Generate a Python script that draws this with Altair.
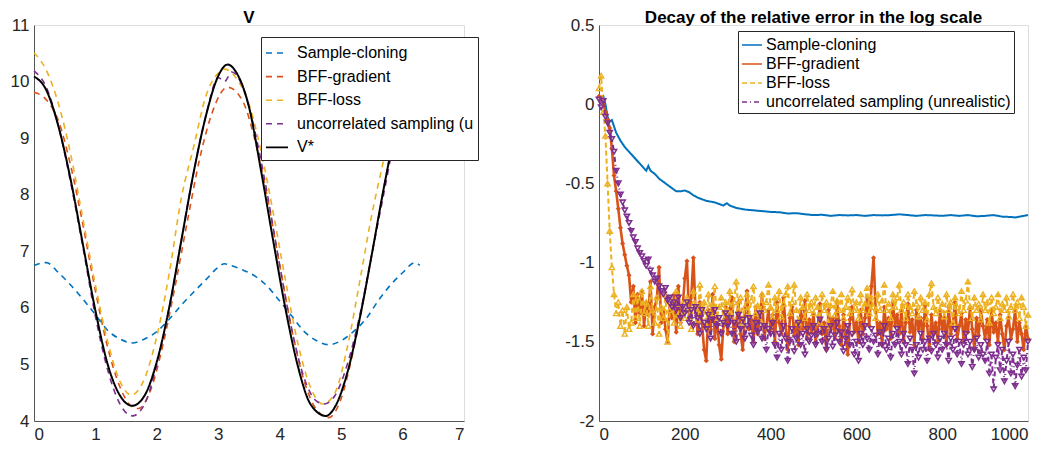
import altair as alt
import pandas as pd

FONT = "Liberation Sans"

# ---------------- Left panel: V ----------------
left_names = ["Sample-cloning", "BFF-gradient", "BFF-loss",
              "uncorrelated sampling (unrealistic)", "V*"]
left_colors = ["#0072BD", "#D95319", "#EDB120", "#7E2F8E", "#000000"]
left_dashes = [[6, 5], [6, 5], [6, 5], [6, 5], [1, 0]]

sc_x = [0, 0.2, 0.4, 0.6, 0.8, 1.0, 1.2, 1.4, 1.6, 1.8, 2.0, 2.2, 2.4, 2.6, 2.8, 3.0, 3.1, 3.2,
        3.4, 3.6, 3.8, 4.0, 4.2, 4.4, 4.6, 4.8, 5.0, 5.2, 5.4, 5.6, 5.8, 6.0, 6.2, 6.28]
sc_v = [6.75, 6.80, 6.62, 6.40, 6.15, 5.88, 5.60, 5.45, 5.38, 5.45, 5.58, 5.80, 6.05, 6.28, 6.50,
        6.72, 6.78, 6.75, 6.67, 6.56, 6.38, 6.12, 5.85, 5.58, 5.42, 5.35, 5.42, 5.58, 5.80, 6.12,
        6.40, 6.62, 6.80, 6.75]

grad_x = [0, 0.2, 0.4, 0.6, 0.8, 1.0, 1.2, 1.4, 1.6, 1.7, 1.9, 2.1, 2.3, 2.5, 2.7, 2.9, 3.15,
          3.4, 3.6, 3.8, 4.0, 4.2, 4.4, 4.6, 4.8, 5.0, 5.2, 5.4, 5.6, 5.8, 6.0, 6.28]
grad_v = [9.81, 9.68, 9.30, 8.50, 7.45, 6.30, 5.30, 4.60, 4.25, 4.22, 4.55, 5.35, 6.40, 7.55,
          8.65, 9.45, 9.90, 9.65, 8.95, 7.95, 6.75, 5.60, 4.70, 4.20, 4.06, 4.40, 5.25, 6.35,
          7.55, 8.70, 9.50, 9.80]

loss_x = [0, 0.2, 0.4, 0.6, 0.8, 1.0, 1.2, 1.4, 1.58, 1.8, 2.0, 2.2, 2.4, 2.6, 2.8, 3.0, 3.1,
          3.3, 3.5, 3.7, 3.9, 4.1, 4.3, 4.5, 4.7, 4.9, 5.1, 5.3, 5.5, 5.7, 5.9, 6.1, 6.28]
loss_v = [10.51, 10.20, 9.60, 8.70, 7.55, 6.40, 5.40, 4.70, 4.46, 4.75, 5.50, 6.60, 7.95, 8.85,
          9.75, 10.15, 10.22, 10.05, 9.60, 8.75, 7.65, 6.45, 5.35, 4.60, 4.30, 4.50, 5.30, 6.45,
          7.65, 8.65, 9.60, 10.25, 10.50]

unc_x = [0, 0.2, 0.4, 0.6, 0.8, 1.0, 1.2, 1.4, 1.6, 1.8, 2.0, 2.2, 2.4, 2.6, 2.8, 3.0, 3.1,
         3.22, 3.4, 3.6, 3.8, 4.0, 4.2, 4.4, 4.6, 4.72, 4.9, 5.1, 5.3, 5.5, 5.7, 5.9, 6.1, 6.28]
unc_v = [10.19, 9.90, 9.20, 8.20, 7.05, 5.85, 4.90, 4.30, 4.09, 4.30, 5.00, 6.00, 7.20, 8.40,
         9.40, 10.07, 10.00, 10.17, 9.90, 9.10, 8.00, 6.75, 5.60, 4.75, 4.35, 4.30, 4.45, 5.00,
         5.85, 6.95, 8.05, 9.15, 9.90, 10.19]

vstar_x = [0, 0.2, 0.4, 0.6, 0.8, 1.0, 1.2, 1.4, 1.6, 1.8, 2.0, 2.2, 2.4, 2.6, 2.8, 3.0, 3.15,
           3.3, 3.5, 3.7, 3.9, 4.1, 4.3, 4.5, 4.75, 4.9, 5.1, 5.3, 5.5, 5.7, 5.9, 6.1, 6.28]
vstar_v = [10.09, 9.85, 9.20, 8.25, 7.10, 5.95, 5.00, 4.45, 4.27, 4.45, 5.05, 6.00, 7.20, 8.40,
           9.40, 10.10, 10.30, 10.15, 9.55, 8.40, 7.15, 5.95, 4.95, 4.30, 4.09, 4.25, 4.85, 5.80,
           6.95, 8.15, 9.20, 9.85, 10.09]

left_series = [(sc_x, sc_v), (grad_x, grad_v), (loss_x, loss_v), (unc_x, unc_v), (vstar_x, vstar_v)]
rows = []
for name, (xs, vs) in zip(left_names, left_series):
    for a, b in zip(xs, vs):
        rows.append({"x": a, "v": b, "series": name})
df_left = pd.DataFrame(rows)

# ---------------- Right panel: decay of relative error ----------------
right_names = ["Sample-cloning", "BFF-gradient", "BFF-loss", "uncorrelated sampling (unrealistic)"]
right_colors = ["#0072BD", "#D95319", "#EDB120", "#7E2F8E"]
right_dashes = [[1, 0], [1, 0], [5, 3], [5, 3, 1, 3]]

clone_it = [0, 5, 10, 15, 20, 25, 30, 35, 40, 50, 60, 70, 80, 90, 100, 110, 115, 120, 130, 140,
            150, 160, 170, 180, 190, 200, 210, 220, 230, 240, 250, 260, 270, 280, 290, 298, 305,
            320, 340, 360, 380, 400, 420, 440, 460, 480, 500, 520, 540, 560, 580, 600, 620, 640,
            660, 680, 700, 720, 740, 760, 780, 800, 820, 840, 860, 880, 900, 920, 940, 960, 970,
            980, 990, 1000]
clone_err = [0.02, 0.04, 0.05, 0.0, -0.08, -0.11, -0.10, -0.14, -0.18, -0.23, -0.27, -0.30,
             -0.33, -0.36, -0.39, -0.42, -0.39, -0.42, -0.44, -0.47, -0.49, -0.51, -0.53, -0.55,
             -0.55, -0.545, -0.555, -0.575, -0.59, -0.60, -0.61, -0.615, -0.62, -0.63, -0.64,
             -0.625, -0.64, -0.655, -0.665, -0.67, -0.675, -0.68, -0.682, -0.69, -0.688, -0.695,
             -0.70, -0.698, -0.705, -0.70, -0.702, -0.70, -0.705, -0.70, -0.702, -0.70, -0.695,
             -0.70, -0.705, -0.70, -0.702, -0.705, -0.70, -0.705, -0.70, -0.708, -0.705, -0.70,
             -0.71, -0.712, -0.715, -0.71, -0.705, -0.70]

grad_err = [
    0.05, 0.03, 0.00, -0.05, -0.10, -0.15, -0.28, -0.45, -0.55, -0.66, -0.78, -0.88, -0.95, -1.02, -1.08, -1.25, -1.15, -1.38, -1.20, -1.32,
    -1.18, -1.40, -1.25, -1.33, -1.12, -1.45, -1.28, -1.22, -1.03, -1.38, -1.30, -1.42, -1.50, -1.26, -1.35, -1.20, -1.44, -1.15, -1.38, -1.28,
    -1.10, -0.99, -1.35, -1.22, -0.97, -1.30, -1.45, -1.25, -1.38, -1.55, -1.62, -1.30, -1.42, -1.20, -1.48, -1.35, -1.52, -1.61, -1.40, -1.28,
    -1.45, -1.30, -1.22, -1.50, -1.38, -1.25, -1.45, -1.55, -1.32, -1.18, -1.42, -1.36, -1.50, -1.28, -1.45, -1.35, -1.20, -1.48, -1.40, -1.30,
    -1.42, -1.33, -1.50, -1.25, -1.38, -1.45, -1.22, -1.40, -1.55, -1.35, -1.28, -1.46, -1.38, -1.52, -1.30, -1.42, -1.24, -1.48, -1.36, -1.44,
    -1.32, -1.50, -1.40, -1.26, -1.45, -1.38, -1.55, -1.30, -1.42, -1.35, -1.48, -1.25, -1.40, -1.52, -1.33, -1.45, -1.58, -1.36, -1.28, -1.44,
    -1.38, -1.50, -1.30, -1.45, -1.35, -1.22, -1.40, -1.15, -0.97, -1.30, -1.45, -1.38, -1.52, -1.28, -1.42, -1.35, -1.48, -1.25, -1.40, -1.33,
    -1.45, -1.30, -1.50, -1.38, -1.26, -1.44, -1.36, -1.52, -1.30, -1.42, -1.35, -1.48, -1.27, -1.40, -1.55, -1.33, -1.45, -1.38, -1.50, -1.30,
    -1.42, -1.35, -1.52, -1.28, -1.45, -1.38, -1.25, -1.48, -1.40, -1.32, -1.50, -1.36, -1.44, -1.28, -1.42, -1.55, -1.35, -1.46, -1.30, -1.40,
    -1.48, -1.36, -1.52, -1.30, -1.44, -1.38, -1.50, -1.33, -1.45, -1.55, -1.40, -1.35, -1.48, -1.42, -1.30, -1.50, -1.38, -1.45, -1.55, -1.40, -1.48]

loss_err = [
    0.10, 0.18, -0.05, -0.20, -0.50, -0.80, -1.03, -1.20, -1.32, -1.25, -1.40, -1.30, -1.45, -1.28, -1.42, -1.38, -1.20, -1.35, -1.22, -1.40,
    -1.18, -1.32, -1.25, -1.40, -1.15, -1.30, -1.38, -1.22, -1.45, -1.28, -1.35, -1.20, -1.50, -1.30, -1.25, -1.38, -1.18, -1.33, -1.40, -1.26,
    -1.35, -1.22, -1.30, -1.42, -1.18, -1.28, -1.36, -1.14, -1.30, -1.25, -1.40, -1.20, -1.32, -1.26, -1.15, -1.35, -1.28, -1.22, -1.38, -1.25,
    -1.30, -1.18, -1.35, -1.25, -1.12, -1.30, -1.22, -1.38, -1.28, -1.20, -1.33, -1.24, -1.15, -1.32, -1.27, -1.36, -1.20, -1.30, -1.25, -1.14,
    -1.28, -1.35, -1.22, -1.30, -1.18, -1.34, -1.26, -1.20, -1.15, -1.32, -1.25, -1.14, -1.30, -1.38, -1.22, -1.28, -1.35, -1.20, -1.30, -1.25,
    -1.32, -1.22, -1.28, -1.38, -1.20, -1.30, -1.25, -1.40, -1.27, -1.18, -1.33, -1.24, -1.30, -1.20, -1.35, -1.28, -1.22, -1.32, -1.17, -1.30,
    -1.25, -1.35, -1.20, -1.30, -1.26, -1.16, -1.32, -1.22, -1.28, -1.35, -1.20, -1.30, -1.24, -1.14, -1.30, -1.26, -1.35, -1.20, -1.28, -1.22,
    -1.14, -1.30, -1.25, -1.35, -1.20, -1.28, -1.32, -1.18, -1.26, -1.34, -1.22, -1.30, -1.25, -1.36, -1.20, -1.13, -1.28, -1.32, -1.22, -1.30,
    -1.26, -1.34, -1.20, -1.30, -1.25, -1.38, -1.22, -1.28, -1.32, -1.18, -1.30, -1.24, -1.12, -1.28, -1.35, -1.22, -1.30, -1.26, -1.36, -1.20,
    -1.30, -1.25, -1.38, -1.22, -1.32, -1.28, -1.20, -1.35, -1.26, -1.30, -1.22, -1.34, -1.28, -1.20, -1.30, -1.25, -1.35, -1.22, -1.28, -1.40, -1.33]

unc_err = [
    0.03, -0.02, 0.02, -0.08, -0.12, -0.18, -0.22, -0.30, -0.42, -0.50, -0.57, -0.62, -0.67, -0.71, -0.75, -0.80, -0.84, -0.87, -0.91, -0.94,
    -0.96, -0.99, -1.02, -0.98, -1.05, -1.08, -1.12, -1.10, -1.15, -1.18, -1.20, -1.16, -1.24, -1.22, -1.28, -1.25, -1.30, -1.22, -1.35, -1.28,
    -1.32, -1.25, -1.38, -1.30, -1.40, -1.28, -1.35, -1.45, -1.30, -1.38, -1.42, -1.33, -1.48, -1.36, -1.30, -1.40, -1.35, -1.45, -1.38, -1.32,
    -1.40, -1.35, -1.45, -1.38, -1.50, -1.33, -1.42, -1.36, -1.48, -1.40, -1.35, -1.46, -1.52, -1.38, -1.44, -1.32, -1.48, -1.40, -1.55, -1.42,
    -1.45, -1.38, -1.52, -1.60, -1.45, -1.55, -1.40, -1.48, -1.62, -1.50, -1.42, -1.56, -1.48, -1.38, -1.52, -1.45, -1.58, -1.42, -1.50, -1.46,
    -1.40, -1.52, -1.45, -1.36, -1.50, -1.42, -1.55, -1.48, -1.40, -1.53, -1.46, -1.38, -1.50, -1.44, -1.56, -1.48, -1.40, -1.52, -1.45, -1.58,
    -1.50, -1.62, -1.45, -1.52, -1.40, -1.48, -1.55, -1.42, -1.50, -1.46, -1.58, -1.44, -1.52, -1.40, -1.55, -1.48, -1.60, -1.45, -1.52, -1.42,
    -1.50, -1.58, -1.45, -1.52, -1.64, -1.48, -1.55, -1.70, -1.52, -1.60, -1.45, -1.55, -1.50, -1.62, -1.48, -1.56, -1.45, -1.52, -1.60, -1.48,
    -1.55, -1.45, -1.52, -1.62, -1.48, -1.55, -1.42, -1.58, -1.50, -1.64, -1.52, -1.45, -1.58, -1.50, -1.66, -1.55, -1.48, -1.60, -1.52, -1.58,
    -1.62, -1.50, -1.70, -1.58, -1.80, -1.60, -1.52, -1.68, -1.55, -1.75, -1.62, -1.50, -1.70, -1.58, -1.78, -1.65, -1.55, -1.72, -1.60, -1.68, -1.50]

rrows = []
for a, b in zip(clone_it, clone_err):
    rrows.append({"it": a, "err": b, "series": right_names[0]})
for name, vals in zip(right_names[1:], [grad_err, loss_err, unc_err]):
    for i, b in enumerate(vals):
        rrows.append({"it": 5 * i, "err": b, "series": name})
df_right = pd.DataFrame(rrows)

# ---------------- Shared styling ----------------
def axis_common(**kw):
    base = dict(title=None, grid=False, ticks=False, labelFont=FONT, labelFontSize=17,
                labelColor="#262626", domainColor="#555555", domainWidth=1, labelPadding=5)
    base.update(kw)
    return alt.Axis(**base)

left_legend = alt.Legend(
    orient="none", legendX=227, legendY=12, title=None, fillColor="white",
    strokeColor="#262626", padding=4, labelFont=FONT, labelFontSize=16, labelColor="#000000",
    symbolType="stroke", symbolSize=484, symbolStrokeWidth=1.6, labelOffset=8, rowPadding=3.6,
    labelLimit=0,
    labelExpr="datum.label == 'uncorrelated sampling (unrealistic)' ? 'uncorrelated sampling (u' : datum.label",
)
lcolor = alt.Scale(domain=left_names, range=left_colors)
ldash = alt.Scale(domain=left_names, range=left_dashes)

def left_layer(name, width):
    return alt.Chart(df_left).transform_filter(alt.datum.series == name).mark_line(
        strokeWidth=width, interpolate="monotone").encode(
        x=alt.X("x:Q", scale=alt.Scale(domain=[0, 7], nice=False),
                axis=axis_common(values=list(range(0, 8)))),
        y=alt.Y("v:Q", scale=alt.Scale(domain=[4, 11], nice=False, zero=False),
                axis=axis_common(values=list(range(4, 12)))),
        color=alt.Color("series:N", scale=lcolor, legend=left_legend),
        strokeDash=alt.StrokeDash("series:N", scale=ldash, legend=left_legend),
    )

left = alt.layer(*[left_layer(n, 2.0 if n == "V*" else 1.6) for n in left_names]).properties(
    width=430, height=396,
    title=alt.TitleParams("V", font=FONT, fontSize=17, fontWeight="bold", color="#000000",
                          offset=-11, anchor="middle"),
)

right_legend = alt.Legend(
    orient="none", legendX=139, legendY=6, title=None, fillColor="white",
    strokeColor="#262626", padding=3, labelFont=FONT, labelFontSize=16, labelColor="#000000",
    symbolType="stroke", symbolSize=400, symbolStrokeWidth=1.6, labelOffset=3, rowPadding=0,
    labelLimit=0,
)
rcolor = alt.Scale(domain=right_names, range=right_colors)
rdash = alt.Scale(domain=right_names, range=right_dashes)
ylab = "(datum.value < 0 ? '-' : '') + format(abs(datum.value), '~g')"

def rx():
    return alt.X("it:Q", scale=alt.Scale(domain=[0, 1000], nice=False),
                 axis=axis_common(values=[0, 200, 400, 600, 800, 1000], format="d"))

def ry():
    return alt.Y("err:Q", scale=alt.Scale(domain=[-2, 0.5], nice=False, zero=False),
                 axis=axis_common(values=[-2, -1.5, -1, -0.5, 0, 0.5], labelExpr=ylab))

def right_line(name, width):
    return alt.Chart(df_right).transform_filter(alt.datum.series == name).mark_line(
        strokeWidth=width).encode(
        x=rx(), y=ry(),
        color=alt.Color("series:N", scale=rcolor, legend=right_legend),
        strokeDash=alt.StrokeDash("series:N", scale=rdash, legend=right_legend),
    )

def right_points(name, color, shape, size, filled, sw):
    return alt.Chart(df_right).transform_filter(alt.datum.series == name).mark_point(
        shape=shape, size=size, filled=filled, strokeWidth=sw, color=color, opacity=1).encode(
        x=rx(), y=ry())

right = alt.layer(
    right_line(right_names[0], 2.0),
    right_line(right_names[1], 2.6),
    right_points(right_names[1], right_colors[1], "diamond", 26, True, 1),
    right_line(right_names[2], 2.0),
    right_points(right_names[2], right_colors[2], "triangle-up", 28, False, 1.4),
    right_line(right_names[3], 2.0),
    right_points(right_names[3], right_colors[3], "triangle-down", 28, False, 1.5),
).properties(
    width=429, height=396,
    title=alt.TitleParams("Decay of the relative error in the log scale", font=FONT,
                          fontSize=17, fontWeight="bold", color="#000000", offset=-11,
                          anchor="middle"),
)

chart = alt.hconcat(left, right, spacing=135, bounds="flush").resolve_scale(
    color="independent", strokeDash="independent"
).resolve_legend(color="independent", strokeDash="independent").properties(
    padding={"left": 1, "top": 0, "right": 5, "bottom": 5}
).configure_view(stroke="transparent", strokeWidth=0).configure(background="white")

chart.save("out.html", embed_options={"renderer": "svg", "actions": False})
